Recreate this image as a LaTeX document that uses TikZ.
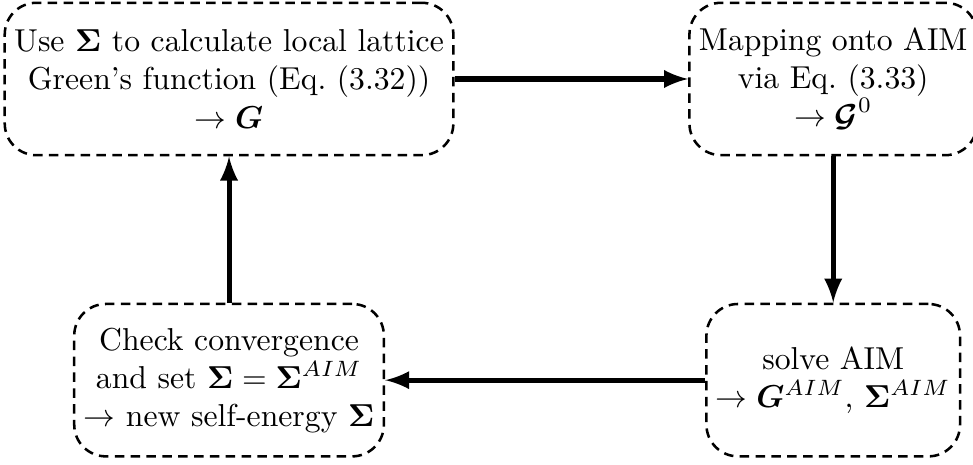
\documentclass[tikz,border=0pt]{standalone}
\usepackage{amsmath,bm}
\usetikzlibrary{arrows}

\begin{document}
\begin{tikzpicture}[
  stepbox/.style={draw,thick,dash pattern=on 3pt off 2pt,rounded corners=10pt,
    align=center,minimum height=1.69cm,inner sep=3pt},
  flow/.style={-latex,ultra thick}]
\useasboundingbox (0,0) rectangle (10.79,5.146);

% The four steps of the loop.
\node[stepbox] (lattice) at (2.54,4.27)
  {Use $\bm{\Sigma}$ to calculate local lattice\\ Green's function (Eq.~(3.32))\\ $\rightarrow \bm{G}$};
\node[stepbox] (mapping) at (9.24,4.27)
  {Mapping onto AIM\\ via Eq.~(3.33)\\ $\rightarrow \bm{\mathcal{G}}^0$};
\node[stepbox] (solver) at (9.24,0.93)
  {solve AIM\\ $\rightarrow \bm{G}^{AIM}$, $\bm{\Sigma}^{AIM}$};
\node[stepbox] (check) at (2.54,0.93)
  {Check convergence\\ and set $\bm{\Sigma}=\bm{\Sigma}^{AIM}$\\ $\rightarrow$ new self-energy $\bm{\Sigma}$};

% Arrows between the steps.
\draw[flow] (lattice) -- (mapping);
\draw[flow] (mapping) -- (solver);
\draw[flow] (solver) -- (check);
\draw[flow] (check) -- (lattice);

\end{tikzpicture}
\end{document}
